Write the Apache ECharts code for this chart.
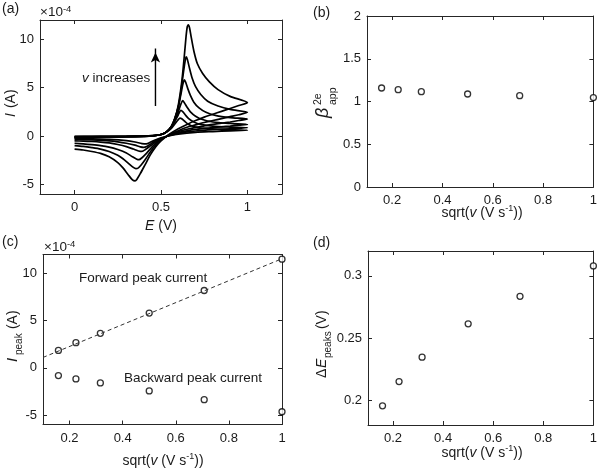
<!DOCTYPE html>
<html><head><meta charset="utf-8">
<script src="https://cdn.jsdelivr.net/npm/echarts@6/dist/echarts.min.js"></script>
<style>html,body{margin:0;padding:0;background:#fff}#c{width:600px;height:470px}</style>
</head><body><div id="c"></div>
<script>
// ---------- DATA ----------
// (a) cyclic voltammograms, I in units of 1e-4 A, slow -> fast scan rate
const cv1 = [[0,-0.04],[0.1,-0.035],[0.2,-0.03],[0.3,-0.02],[0.4,0.0],[0.45,0.04],[0.5,0.15],[0.53,0.38],[0.56,0.8],[0.58,1.25],[0.6,1.7],[0.61,1.84],[0.62,1.78],[0.635,1.55],[0.66,1.2],[0.7,0.92],[0.75,0.78],[0.85,0.67],[1.0,0.6],
  [0.9,0.53],[0.8,0.46],[0.7,0.38],[0.6,0.2],[0.55,0.03],[0.5,-0.2],[0.47,-0.4],[0.44,-0.63],[0.415,-0.82],[0.39,-0.78],[0.35,-0.62],[0.3,-0.48],[0.2,-0.35],[0.1,-0.29],[0,-0.25]];
const cv2 = [[0,-0.06],[0.1,-0.05],[0.2,-0.04],[0.3,-0.03],[0.4,-0.01],[0.45,0.03],[0.5,0.15],[0.53,0.4],[0.56,0.9],[0.58,1.5],[0.6,2.2],[0.615,2.66],[0.627,2.5],[0.64,2.2],[0.66,1.8],[0.69,1.45],[0.73,1.2],[0.8,1.02],[0.9,0.92],[1.0,0.85],
  [0.9,0.75],[0.8,0.65],[0.7,0.52],[0.65,0.42],[0.6,0.28],[0.55,0.05],[0.5,-0.25],[0.47,-0.5],[0.44,-0.82],[0.42,-1.05],[0.4,-1.17],[0.38,-1.12],[0.35,-0.95],[0.3,-0.75],[0.25,-0.6],[0.2,-0.5],[0.1,-0.41],[0,-0.35]];
const cv3 = [[0,-0.08],[0.1,-0.07],[0.2,-0.06],[0.3,-0.05],[0.4,-0.02],[0.45,0.02],[0.5,0.15],[0.53,0.4],[0.56,0.95],[0.58,1.6],[0.6,2.5],[0.615,3.3],[0.625,3.65],[0.635,3.45],[0.65,3.0],[0.67,2.5],[0.7,2.05],[0.74,1.7],[0.8,1.45],[0.9,1.3],[1.0,1.2],
  [0.95,1.12],[0.9,1.03],[0.85,0.95],[0.8,0.87],[0.75,0.78],[0.7,0.68],[0.65,0.53],[0.6,0.35],[0.55,0.08],[0.5,-0.3],[0.47,-0.6],[0.44,-1.0],[0.41,-1.4],[0.39,-1.6],[0.37,-1.55],[0.34,-1.35],[0.3,-1.1],[0.25,-0.88],[0.2,-0.72],[0.15,-0.63],[0.1,-0.57],[0.05,-0.53],[0,-0.5]];
const cv4 = [[0,-0.12],[0.1,-0.1],[0.2,-0.08],[0.3,-0.06],[0.4,-0.03],[0.45,0.02],[0.5,0.15],[0.53,0.4],[0.56,1.0],[0.58,1.8],[0.6,3.0],[0.615,4.3],[0.627,5.4],[0.635,5.8],[0.643,5.55],[0.655,4.9],[0.67,4.2],[0.69,3.5],[0.72,2.9],[0.76,2.45],[0.82,2.1],[0.9,1.9],[1.0,1.75],
  [0.95,1.6],[0.9,1.45],[0.85,1.32],[0.8,1.2],[0.75,1.05],[0.7,0.9],[0.65,0.7],[0.6,0.45],[0.55,0.1],[0.5,-0.35],[0.47,-0.75],[0.44,-1.3],[0.41,-1.9],[0.39,-2.25],[0.373,-2.45],[0.36,-2.4],[0.335,-2.15],[0.3,-1.75],[0.25,-1.4],[0.2,-1.15],[0.15,-1.0],[0.1,-0.9],[0.05,-0.82],[0,-0.75]];
const cv5 = [[0,-0.15],[0.1,-0.12],[0.2,-0.1],[0.3,-0.08],[0.4,-0.04],[0.45,0.0],[0.5,0.15],[0.53,0.4],[0.56,1.0],[0.58,1.8],[0.6,3.0],[0.615,4.6],[0.63,6.6],[0.64,7.8],[0.646,8.19],[0.653,7.9],[0.665,7.0],[0.68,6.0],[0.7,5.1],[0.73,4.3],[0.77,3.6],[0.83,3.1],[0.9,2.75],[1.0,2.45],
  [0.95,2.2],[0.9,2.0],[0.85,1.8],[0.8,1.6],[0.75,1.4],[0.7,1.15],[0.65,0.9],[0.6,0.55],[0.55,0.15],[0.5,-0.4],[0.47,-0.9],[0.44,-1.6],[0.41,-2.4],[0.385,-3.0],[0.365,-3.35],[0.355,-3.37],[0.34,-3.25],[0.31,-2.8],[0.28,-2.35],[0.25,-2.0],[0.2,-1.6],[0.15,-1.35],[0.1,-1.2],[0.05,-1.08],[0,-1.0]];
const cv6 = [[0,-0.2],[0.1,-0.15],[0.2,-0.12],[0.3,-0.1],[0.4,-0.05],[0.45,0.0],[0.5,0.15],[0.53,0.4],[0.56,1.0],[0.58,1.8],[0.6,3.2],[0.62,5.6],[0.635,8.3],[0.645,10.3],[0.652,11.3],[0.658,11.5],[0.665,11.2],[0.675,10.2],[0.69,8.8],[0.71,7.5],[0.74,6.5],[0.78,5.6],[0.83,4.8],[0.9,4.1],[1.0,3.45],
  [0.95,3.15],[0.9,2.85],[0.85,2.55],[0.8,2.25],[0.75,1.95],[0.7,1.6],[0.65,1.2],[0.6,0.75],[0.55,0.2],[0.5,-0.5],[0.47,-1.1],[0.44,-1.9],[0.41,-2.9],[0.38,-3.9],[0.36,-4.5],[0.35,-4.65],[0.335,-4.55],[0.31,-4.0],[0.28,-3.3],[0.25,-2.75],[0.2,-2.15],[0.15,-1.8],[0.1,-1.6],[0.05,-1.45],[0,-1.35]];
const cvCurves = [cv1, cv2, cv3, cv4, cv5, cv6];
const arrowE = [0.468, 0.468];
const arrowI = [3.1, 9.05];

// (b)(c)(d) versus sqrt(scan rate)
const sqrtV = [0.158, 0.224, 0.316, 0.5, 0.707, 1.0];
const betaApp = [1.158, 1.138, 1.115, 1.088, 1.068, 1.046];
const ipForward = [1.84, 2.66, 3.65, 5.8, 8.19, 11.5];
const ipBackward = [-0.82, -1.17, -1.6, -2.45, -3.37, -4.65];
const dEpeaks = [0.1954, 0.2149, 0.2346, 0.2614, 0.2835, 0.308];
const fitX = [0.1, 1.0];
const fitY = [1.1, 11.55];

// tick labels
const ticksAx = [0, 0.5, 1];
const ticksAy = [-5, 0, 5, 10];
const ticksSx = [0.2, 0.4, 0.6, 0.8, 1];
const ticksBy = [0, 0.5, 1, 1.5, 2];
const ticksCy = [-5, 0, 5, 10];
const ticksDy = [0.2, 0.25, 0.3];

// ---------- CHART ----------
const FONT = '"Liberation Sans", Arial, Helvetica, sans-serif';
const AX = '#262626';
const TXT = '#1a1a1a';
const fmt = v => String(+(+v).toFixed(3));

const grids = [
  {left: 40, top: 20, width: 242, height: 174},
  {left: 367, top: 16, width: 230, height: 171},
  {left: 43, top: 254.5, width: 239, height: 170},
  {left: 368, top: 251, width: 228, height: 174}
];
const ranges = [
  {x:[-0.2,1.2], xt: ticksAx, y:[-6,12], yt: ticksAy},
  {x:[0.1,1], xt: ticksSx, y:[0,2], yt: ticksBy},
  {x:[0.1,1], xt: ticksSx, y:[-6,12], yt: ticksCy},
  {x:[0.1,1], xt: ticksSx, y:[0.18,0.32], yt: ticksDy}
];
const xAxes = [], yAxes = [];
ranges.forEach((r, gi) => {
  ['bottom','top'].forEach((pos, k) => {
    xAxes.push({
      type: 'value', gridIndex: gi, position: pos, min: r.x[0], max: r.x[1],
      axisLine: {show: true, onZero: false, lineStyle: {color: AX, width: 1}},
      axisTick: {show: true, inside: true, length: 4, customValues: r.xt, lineStyle: {color: AX}},
      axisLabel: {show: k === 0, customValues: r.xt, margin: 7, fontSize: 13, color: TXT, fontFamily: FONT, formatter: fmt},
      splitLine: {show: false}
    });
  });
  ['left','right'].forEach((pos, k) => {
    yAxes.push({
      type: 'value', gridIndex: gi, position: pos, min: r.y[0], max: r.y[1],
      axisLine: {show: true, onZero: false, lineStyle: {color: AX, width: 1}},
      axisTick: {show: true, inside: true, length: 4, customValues: r.yt, lineStyle: {color: AX}},
      axisLabel: {show: k === 0, customValues: r.yt, margin: 6, fontSize: 13, color: TXT, fontFamily: FONT, formatter: fmt},
      splitLine: {show: false}
    });
  });
});

const series = [];
cvCurves.forEach((c, i) => {
  series.push({
    type: 'line', xAxisIndex: 0, yAxisIndex: 0, data: c, showSymbol: false, symbol: 'none',
    smooth: 0.25, lineStyle: {color: '#000', width: 1.7}, silent: true, animation: false, clip: true
  });
});
// arrow: shaft + upward arrow head at the tip
series.push({
  type: 'line', xAxisIndex: 0, yAxisIndex: 0, silent: true, animation: false,
  lineStyle: {color: '#000', width: 1.4}, showSymbol: true, symbol: 'none',
  data: [
    {value: [arrowE[0], arrowI[0]], symbol: 'none'},
    {value: [arrowE[1], arrowI[1]], symbol: 'arrow', symbolSize: [7, 10], symbolOffset: [0, '40%'], itemStyle: {color: '#000'}}
  ]
});
const circ = {symbol: 'circle', symbolSize: 6, itemStyle: {color: '#fff', borderColor: '#000', borderWidth: 1.3}};
series.push(Object.assign({type: 'scatter', xAxisIndex: 2, yAxisIndex: 2, clip: false, animation: false,
  data: sqrtV.map((x, i) => [x, betaApp[i]])}, circ));
series.push({type: 'line', xAxisIndex: 4, yAxisIndex: 4, data: fitX.map((x, i) => [x, fitY[i]]),
  showSymbol: false, symbol: 'none', lineStyle: {color: '#333', width: 1, type: [4, 3]}, animation: false});
series.push(Object.assign({type: 'scatter', xAxisIndex: 4, yAxisIndex: 4, clip: false, animation: false,
  data: sqrtV.map((x, i) => [x, ipForward[i]])}, circ));
series.push(Object.assign({type: 'scatter', xAxisIndex: 4, yAxisIndex: 4, clip: false, animation: false,
  data: sqrtV.map((x, i) => [x, ipBackward[i]])}, circ));
series.push(Object.assign({type: 'scatter', xAxisIndex: 6, yAxisIndex: 6, clip: false, animation: false,
  data: sqrtV.map((x, i) => [x, dEpeaks[i]])}, circ));

function txt(x, y, text, extra) {
  return {type: 'text', x: x, y: y, silent: true,
    style: Object.assign({text: text, fontSize: 13, fontFamily: FONT, fill: TXT, align: 'left', verticalAlign: 'middle'}, extra || {})};
}
const richBase = {
  i: {fontStyle: 'italic', fontSize: 14, fontFamily: FONT, fill: TXT},
  s: {fontSize: 9, fontFamily: FONT, fill: TXT, verticalAlign: 'top', lineHeight: 18}
};
function xname(x, y, text) {
  return txt(x, y, text, {fontSize: 14, align: 'center', lineHeight: 18, rich: richBase});
}
function rotGroup(x, y, children) {
  return {type: 'group', x: x, y: y, rotation: Math.PI / 2, silent: true, children: children};
}
const sciRich = {n: {fontSize: 13.5, fontFamily: FONT, fill: TXT}, s: {fontSize: 9.5, fontFamily: FONT, fill: TXT, verticalAlign: 'top', lineHeight: 16}};

const graphics = [
  txt(2, 9, '(a)', {fontSize: 14}),
  txt(313, 13, '(b)', {fontSize: 14}),
  txt(2, 242, '(c)', {fontSize: 14}),
  txt(313, 243, '(d)', {fontSize: 14}),
  txt(40, 12, '{n|×10}{s|-4}', {lineHeight: 16, rich: sciRich}),
  txt(44, 247, '{n|×10}{s|-4}', {lineHeight: 16, rich: sciRich}),
  txt(82, 78, '{i|v} increases', {fontSize: 13.5, rich: {i: {fontStyle: 'italic', fontSize: 13.5, fontFamily: FONT, fill: TXT}}}),
  txt(79, 278, 'Forward peak current', {fontSize: 13.5}),
  txt(124, 378, 'Backward peak current', {fontSize: 13.5}),
  xname(161, 226, '{i|E} (V)'),
  xname(482, 213, 'sqrt({i|v} (V s{s|-1}))'),
  xname(163, 461, 'sqrt({i|v} (V s{s|-1}))'),
  xname(482, 453, 'sqrt({i|v} (V s{s|-1}))'),
  // (a) y title: I (A)
  rotGroup(11, 117, [
    {type: 'text', x: 0, y: 0, style: {text: 'I', fontSize: 14, fontStyle: 'italic', fontFamily: FONT, fill: TXT, align: 'left', verticalAlign: 'middle'}},
    {type: 'text', x: 5, y: 0, style: {text: ' (A)', fontSize: 14, fontFamily: FONT, fill: TXT, align: 'left', verticalAlign: 'middle'}}
  ]),
  // (b) y title: beta^2e_app
  rotGroup(323, 118, [
    {type: 'text', x: 0, y: 0, style: {text: 'β', fontSize: 18, fontStyle: 'italic', fontFamily: FONT, fill: TXT, align: 'left', verticalAlign: 'middle'}},
    {type: 'text', x: 13, y: -5, style: {text: '2e', fontSize: 10.5, fontFamily: FONT, fill: TXT, align: 'left', verticalAlign: 'middle'}},
    {type: 'text', x: 13, y: 10, style: {text: 'app', fontSize: 10.5, fontFamily: FONT, fill: TXT, align: 'left', verticalAlign: 'middle'}}
  ]),
  // (c) y title: I_peak (A)
  rotGroup(13, 362, [
    {type: 'text', x: 0, y: 0, style: {text: 'I', fontSize: 15, fontStyle: 'italic', fontFamily: FONT, fill: TXT, align: 'left', verticalAlign: 'middle'}},
    {type: 'text', x: 7, y: 6, style: {text: 'peak', fontSize: 10, fontFamily: FONT, fill: TXT, align: 'left', verticalAlign: 'middle'}},
    {type: 'text', x: 29, y: 0, style: {text: ' (A)', fontSize: 14, fontFamily: FONT, fill: TXT, align: 'left', verticalAlign: 'middle'}}
  ]),
  // (d) y title: ΔE_peaks (V)
  rotGroup(322, 378, [
    {type: 'text', x: 0, y: 0, style: {text: 'Δ', fontSize: 14, fontFamily: FONT, fill: TXT, align: 'left', verticalAlign: 'middle'}},
    {type: 'text', x: 10, y: 0, style: {text: 'E', fontSize: 14, fontStyle: 'italic', fontFamily: FONT, fill: TXT, align: 'left', verticalAlign: 'middle'}},
    {type: 'text', x: 20, y: 6, style: {text: 'peaks', fontSize: 10, fontFamily: FONT, fill: TXT, align: 'left', verticalAlign: 'middle'}},
    {type: 'text', x: 45, y: 0, style: {text: ' (V)', fontSize: 14, fontFamily: FONT, fill: TXT, align: 'left', verticalAlign: 'middle'}}
  ])
];

const chart = echarts.init(document.getElementById('c'), null, {renderer: 'canvas', width: 600, height: 470});
chart.setOption({
  backgroundColor: '#fff',
  animation: false,
  textStyle: {fontFamily: FONT},
  grid: grids,
  xAxis: xAxes,
  yAxis: yAxes,
  series: series,
  graphic: graphics
});
</script></body></html>
